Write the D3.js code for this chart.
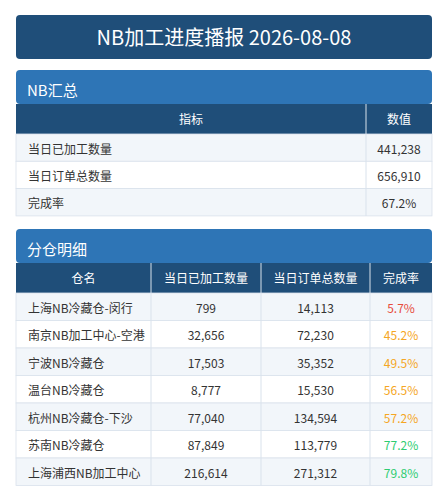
<!DOCTYPE html><html><head><meta charset="utf-8"><script src="https://cdn.jsdelivr.net/npm/d3@7"></script>
<style>body{margin:0;background:#fff}text{font-family:"Noto Sans CJK SC","Noto Sans",sans-serif}</style></head><body><svg id="c" width="447" height="500"></svg>
<script>
const title="NB加工进度播报 2026-08-08";
const summaryCols=["指标","数值"];
const summaryLabels=["当日已加工数量","当日订单总数量","完成率"];
const summaryValues=["441,238","656,910","67.2%"];
const detailCols=["仓名","当日已加工数量","当日订单总数量","完成率"];
const warehouses=["上海NB冷藏仓-闵行","南京NB加工中心-空港","宁波NB冷藏仓","温台NB冷藏仓","杭州NB冷藏仓-下沙","苏南NB冷藏仓","上海浦西NB加工中心"];
const processed=[799,32656,17503,8777,77040,87849,216614];
const orders=[14113,72230,35352,15530,134594,113779,271312];
const rates=[5.7,45.2,49.5,56.5,57.2,77.2,79.8];
const svg=d3.select("#c");
const X0=16,X1=432,dark="#1f4e79",mid="#2e75b6",alt="#f2f6fa",line="#d9e2ec";
const fmt=d3.format(",");
svg.append("rect").attr("x",X0).attr("y",15).attr("width",X1-X0).attr("height",44).attr("rx",4).attr("fill",dark);
svg.append("text").attr("x",(X0+X1)/2).attr("y",45).attr("text-anchor","middle").attr("fill","#fff").attr("font-size",20).text(title);
function section(y,label){
 svg.append("rect").attr("x",X0).attr("y",y).attr("width",X1-X0).attr("height",34).attr("rx",4).attr("fill",mid);
 svg.append("text").attr("x",27).attr("y",y+26).attr("fill","#fff").attr("font-size",15).text(label);
}
function table(y0,edges,headers,rows,rowH,colors){
 const hH=30;
 svg.append("rect").attr("x",X0).attr("y",y0).attr("width",X1-X0).attr("height",hH).attr("fill",dark);
 headers.forEach((h,i)=>svg.append("text").attr("x",(edges[i]+edges[i+1])/2).attr("y",y0+20).attr("text-anchor","middle").attr("fill","#fff").attr("font-size",12).text(h));
 const ys=d3.scaleBand().domain(d3.range(rows.length)).range([y0+hH,y0+hH+rowH*rows.length]);
 rows.forEach((r,j)=>{
  const y=ys(j);
  svg.append("rect").attr("x",X0).attr("y",y).attr("width",X1-X0).attr("height",rowH).attr("fill",j%2?"#fff":alt).attr("stroke",line).attr("stroke-width",0.8);
  r.forEach((v,i)=>{
   svg.append("text").attr("x",i==0?28:(edges[i]+edges[i+1])/2).attr("y",y+rowH/2+6).attr("text-anchor",i==0?"start":"middle").attr("font-size",12).attr("fill",colors&&i==r.length-1?colors[j]:"#333").text(v);
  });
 });
 edges.slice(1,-1).forEach(e=>svg.append("line").attr("x1",e).attr("x2",e).attr("y1",y0).attr("y2",y0+hH+rowH*rows.length).attr("stroke",line).attr("stroke-width",1));
}
section(70,"NB汇总");
table(104,[X0,366,X1],summaryCols,summaryLabels.map((l,i)=>[l,summaryValues[i]]),27.3);
section(229,"分仓明细");
const rc=r=>r<30?"#e74c3c":r<70?"#f5a623":"#2ecc71";
table(263,[X0,151,261,370,X1],detailCols,warehouses.map((w,i)=>[w,fmt(processed[i]),fmt(orders[i]),rates[i].toFixed(1)+"%"]),27.5,rates.map(rc));
</script></body></html>
